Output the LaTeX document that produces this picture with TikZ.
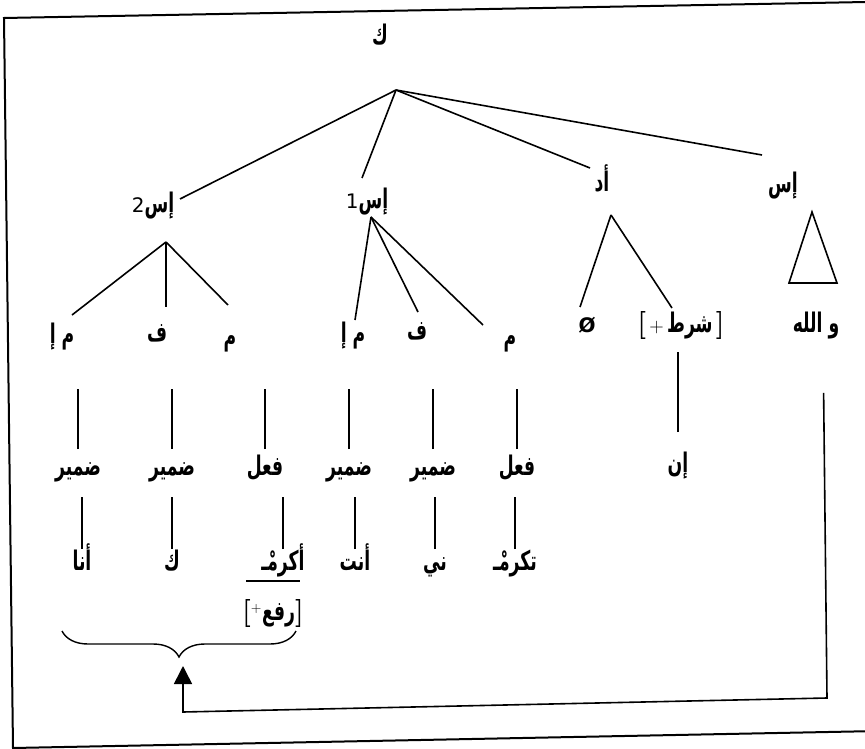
\documentclass[tikz,border=0pt]{standalone}
\usepackage{fontspec}
\usepackage{graphicx}
\TeXXeTstate=1
\newfontfamily\arabicfont[Script=Arabic]{DejaVu Sans}
\usetikzlibrary{arrows.meta,decorations.pathreplacing}
% the scan's Arabic face is narrower and taller than DejaVu
\newcommand{\arb}[1]{\scalebox{0.86}[1.35]{\arabicfont\bfseries\beginR #1\endR}}
\newcommand{\bigbr}[1]{{\fontsize{28}{28}\selectfont\bfseries #1}}
\tikzset{
  lab/.style={inner sep=0pt,text height=15pt,text depth=5pt,
    font=\fontsize{20}{24}\selectfont},
  brace/.style={decorate,decoration={brace,amplitude=26pt},line width=1.4pt},
}
\begin{document}
\begin{tikzpicture}[x=1pt,y=-1pt,line width=1.6pt]
% 1pt = one pixel of the scan, y runs downwards
% the scanned frame is tilted by about one degree
\useasboundingbox (0,0) rectangle (865,749);
\clip (0,0) rectangle (865,749);
\draw[line width=2pt] (4,18) -- (866,2) -- (879,731) -- (13,748) -- cycle;

% top of the tree
\node[lab] (k) at (380,40) {\arb{ك}};
\coordinate (kroot) at (396,90);
\node[lab] (is2) at (153,207) {{\arabicfont 2}\arb{إس}};
\node[lab] (is1) at (367,203) {{\arabicfont 1}\arb{إس}};
\node[lab] (ad) at (602,186) {\arb{أد}};
\node[lab] (is) at (783,188) {\arb{إس}};
\coordinate (is2-in) at (180,199);
\coordinate (is1-in) at (362,178);
\coordinate (ad-in) at (590,168);
\coordinate (is-in) at (762,155);
\foreach \c in {is2-in,is1-in,ad-in,is-in} \draw (kroot) -- (\c);

% second level
\coordinate (s2root) at (166,242);
\coordinate (s1root) at (371,217);
\coordinate (adroot) at (611,215);
\node[lab] (ma2) at (62,338) {\arb{م إ}};
\node[lab] (f2) at (157,336) {\arb{ف}};
\node[lab] (m2) at (230,340) {\arb{م}};
\node[lab] (ma1) at (353,337) {\arb{م إ}};
\node[lab] (f1) at (417,334) {\arb{ف}};
\node[lab] (m1) at (510,340) {\arb{م}};
\node[lab] (null) at (587,327) {{\arabicfont\bfseries Ø}};
\node[lab] (shart) at (681,327) {\bigbr{[}\,+\,\arb{شرط}\,\bigbr{]}};
\node[lab] (wallah) at (816,327) {\arb{و الله}};
\coordinate (ma2-in) at (72,315);
\coordinate (f2-in) at (166,307);
\coordinate (m2-in) at (228,305);
\coordinate (ma1-in) at (355,320);
\coordinate (f1-in) at (418,312);
\coordinate (m1-in) at (483,325);
\coordinate (null-in) at (580,307);
\coordinate (shart-in) at (672,308);
\foreach \c in {ma2-in,f2-in,m2-in} \draw (s2root) -- (\c);
\foreach \c in {ma1-in,f1-in,m1-in} \draw (s1root) -- (\c);
\foreach \c in {null-in,shart-in} \draw (adroot) -- (\c);
% triangle under is
\coordinate (tri-a) at (812,212);
\coordinate (tri-b) at (789,283);
\coordinate (tri-c) at (837,283);
\draw (tri-a) -- (tri-b) -- (tri-c) -- cycle;

% parts of speech
\node[lab] (p1) at (78,470) {\arb{ضمير}};
\node[lab] (p2) at (172,470) {\arb{ضمير}};
\node[lab] (p3) at (265,470) {\arb{فعل}};
\node[lab] (p4) at (349,470) {\arb{ضمير}};
\node[lab] (p5) at (433,470) {\arb{ضمير}};
\node[lab] (p6) at (517,470) {\arb{فعل}};
\node[lab] (inn) at (678,467) {\arb{إن}};
\foreach \i in {1,...,6} \draw[shorten <=10pt] (p\i.north) -- ++(0,-70);
\draw[shorten <=24pt] (inn.north) -- ++(0,-104);

% words
\node[lab] (w1) at (82,565) {\arb{أنا}};
\node[lab] (w2) at (172,565) {\arb{ك}};
\node[lab] (w3) at (283,565) {\arb{أكرمْـ}};
\node[lab] (w4) at (355,565) {\arb{أنت}};
\node[lab] (w5) at (435,565) {\arb{ني}};
\node[lab] (w6) at (515,565) {\arb{تكرمْـ}};
\foreach \i in {1,...,6} \draw[shorten <=5pt] (w\i.north) -- ++(0,-57);
\node[lab] (raf) at (273,615) {\bigbr{[}\textsuperscript{+}\arb{رفع}\bigbr{]}};
\draw ([xshift=5pt,yshift=23pt]raf.north west) -- ([xshift=-5pt,yshift=23pt]raf.north east);

% brace and the arrow coming from wallah
\coordinate (br-l) at (62,631);
\coordinate (br-r) at (296,631);
\draw[brace] (br-r) -- (br-l);
\coordinate (wl-bot) at (827,698);
\coordinate (arr-bot) at (183,712);
\coordinate (arr-tip) at (183,666);
\draw[-{Triangle[length=18pt,width=18pt]},shorten <=55pt] ([xshift=7pt]wallah.south) -- (wl-bot) -- (arr-bot) -- (arr-tip);
\end{tikzpicture}
\end{document}
